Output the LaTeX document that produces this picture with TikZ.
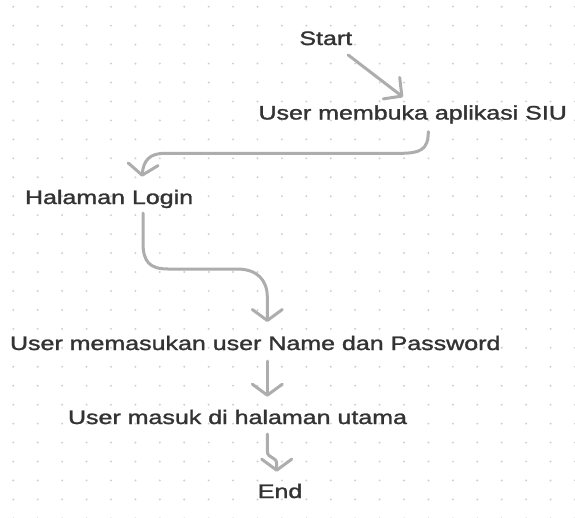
\documentclass[tikz,border=0pt]{standalone}
\usepackage{fontspec}
\usepackage{graphicx}
\usetikzlibrary{arrows.meta,calc}
\newfontfamily\lblfont{Liberation Sans}[FakeBold=1.3]
\newcommand{\vsq}[1]{\scalebox{1}[0.78]{#1}}
\definecolor{txt}{HTML}{333333}
\definecolor{conn}{HTML}{ADADAD}
\definecolor{dotc}{HTML}{D0D0D0}
\tikzset{
  lbl/.style={inner sep=0pt, outer sep=0pt, anchor=base west, text=txt,
    font=\lblfont\fontsize{25}{25}\selectfont},
  flow/.style={draw=conn, line width=3pt, line cap=round, line join=round,
    -{Straight Barb[length=11pt,width=30pt,line width=3pt,round]}},
  flowdiag/.style={draw=conn, line width=3pt, line cap=round, line join=round,
    -{Straight Barb[length=13pt,width=27pt,line width=3pt,round]}},
}
\begin{document}
\begin{tikzpicture}[x=1pt,y=-1pt]
\useasboundingbox (0,0) rectangle (575,517);
\fill[white] (0,0) rectangle (575,517);
% dot grid
\foreach \i in {0,...,23}{
  \foreach \j in {0,...,27}{
    \fill[dotc] ({13.3+24.42*\i},{6.7+18.95*\j}) circle (1.1);
  }
}
% labels
\node[lbl] (start) at (299.4,45)  {\vsq{Start}};
\node[lbl] (open)  at (258.5,119.5) {\vsq{User membuka aplikasi SIU}};
\node[lbl] (login) at (25,204)  {\vsq{Halaman Login}};
\node[lbl] (input) at (10,350)    {\vsq{User memasukan user Name dan Password}};
\node[lbl] (home)  at (68,424)    {\vsq{User masuk di halaman utama}};
\node[lbl] (end)   at (257.8,498) {\vsq{End}};
% connectors
\draw[flowdiag] ($(start.base east)+(-4,10)$) -- ($(open.base west)+(144.5,-22.5)$);
\draw[flow] ($(open.base west)+(169.8,12.2)$)
   .. controls (428.3,150) and (420,153.3) .. (400,153.3)
   -- (165,153.3)
   .. controls (150,153.3) and (143.5,160) .. ($(login.base west)+(117,-27.3)$);
\draw[flow] ($(login.base west)+(118,9)$) -- (143,243)
   .. controls (143,262) and (150,269) .. (168,269)
   -- (237,269)
   .. controls (257,269) and (267.3,280) .. (267.3,297)
   -- ($(input.base west)+(257.3,-28)$);
\draw[flow] ($(input.base west)+(257.3,11)$) -- ($(home.base west)+(199.3,-27.3)$);
\draw[flow] ($(home.base west)+(199.3,10)$) -- (267.3,451)
   .. controls (267.3,459) and (276.7,456) .. (276.7,464)
   -- ($(end.base west)+(18.9,-26.3)$);
\end{tikzpicture}
\end{document}
